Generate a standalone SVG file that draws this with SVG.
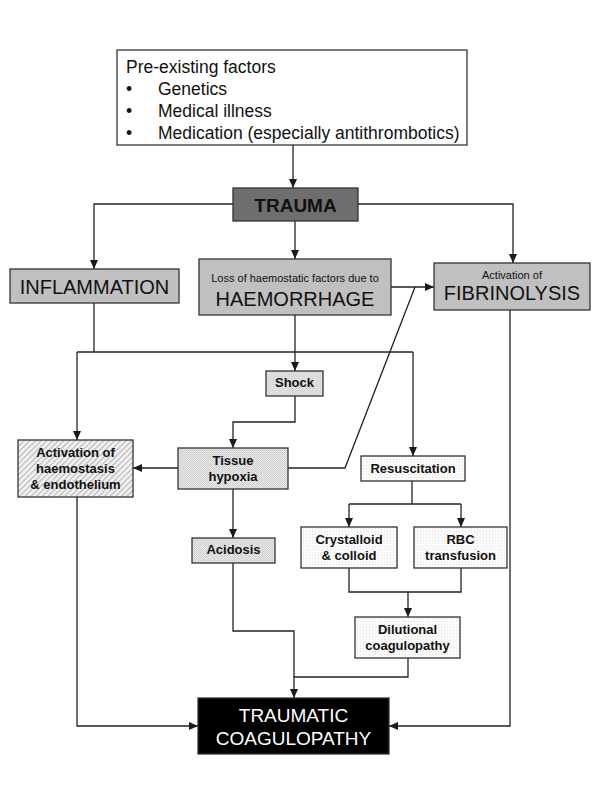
<svg xmlns="http://www.w3.org/2000/svg" width="600" height="800" viewBox="0 0 600 800">
<defs>
<marker id="arr" markerWidth="9" markerHeight="8" refX="9" refY="4" orient="auto" markerUnits="userSpaceOnUse">
<path d="M0,0 L9,4 L0,8 z" fill="#1a1a1a"/>
</marker>
<pattern id="hatch" width="4" height="4" patternUnits="userSpaceOnUse" patternTransform="rotate(45)">
<rect width="4" height="4" fill="#f4f4f4"/>
<rect width="1.4" height="4" fill="#bdbdbd"/>
</pattern>
<pattern id="dotgray" width="2" height="2" patternUnits="userSpaceOnUse">
<rect width="2" height="2" fill="#e6e6e6"/>
<rect width="1" height="1" fill="#cfcfcf"/>
<rect x="1" y="1" width="1" height="1" fill="#d6d6d6"/>
</pattern>
<pattern id="dotlight" width="3" height="3" patternUnits="userSpaceOnUse">
<rect width="3" height="3" fill="#fbfbfb"/>
<rect width="1" height="1" fill="#e2e2e2"/>
</pattern>
</defs>
<style>
.box{stroke:#333;stroke-width:1.3}
.t{font-family:"Liberation Sans",Arial,sans-serif;fill:#111}
.p{font-size:17.5px}
.b{font-weight:bold;font-size:13px;text-anchor:middle}
.c{stroke:#222;stroke-width:1.3;fill:none}
.a{marker-end:url(#arr)}
</style>
<rect width="600" height="800" fill="#fff"/>

<g id="connectors">
<path class="c a" d="M293,145 V188"/>
<path class="c a" d="M233,204 H94 V269"/>
<path class="c a" d="M295,221 V259"/>
<path class="c a" d="M358,204 H513 V263"/>
<path class="c a" d="M391,287 H434"/>
<path class="c" d="M94,303 V352"/>
<path class="c" d="M77,352 H413"/>
<path class="c a" d="M77,352 V440"/>
<path class="c a" d="M413,352 V456"/>
<path class="c a" d="M295,315 V371"/>
<path class="c a" d="M295,396 V422 H233 V448"/>
<path class="c a" d="M178,468 H133"/>
<path class="c" d="M288,468 H345 L415,287"/>
<path class="c a" d="M233,489 V538"/>
<path class="c" d="M412,481 V504"/>
<path class="c" d="M349,504 H461"/>
<path class="c a" d="M349,504 V527"/>
<path class="c a" d="M461,504 V527"/>
<path class="c" d="M349,568 V592 H461 V568"/>
<path class="c a" d="M408,592 V617"/>
<path class="c a" d="M408,658 V677 H294 V698"/>
<path class="c" d="M233,563 V631 H294 V677"/>
<path class="c a" d="M77,497 V726 H198"/>
<path class="c a" d="M510,310 V726 H389"/>
</g>

<g id="preexisting">
<rect class="box" x="117" y="50" width="350" height="95" fill="#fff"/>
<text class="t p" x="126" y="73">Pre-existing factors</text>
<text class="t p" x="126" y="95">•</text>
<text class="t p" x="158" y="95">Genetics</text>
<text class="t p" x="126" y="117">•</text>
<text class="t p" x="158" y="117">Medical illness</text>
<text class="t p" x="126" y="139">•</text>
<text class="t p" x="158" y="139">Medication (especially antithrombotics)</text>
</g>

<g id="trauma">
<rect class="box" x="233" y="188" width="125" height="33" fill="#6e6e6e"/>
<text class="t" font-size="19" font-weight="bold" text-anchor="middle" x="295.5" y="212">TRAUMA</text>
</g>

<g id="inflammation">
<rect class="box" x="10" y="269" width="169" height="34" fill="#c0c0c0"/>
<text class="t" font-size="20" text-anchor="middle" x="94.5" y="294">INFLAMMATION</text>
</g>

<g id="haemorrhage">
<rect class="box" x="199" y="259" width="192" height="56" fill="#c0c0c0"/>
<text class="t" font-size="11" text-anchor="middle" x="295" y="282">Loss of haemostatic factors due to</text>
<text class="t" font-size="20" text-anchor="middle" x="295" y="306">HAEMORRHAGE</text>
</g>

<g id="fibrinolysis">
<rect class="box" x="434" y="263" width="156" height="47" fill="#c0c0c0"/>
<text class="t" font-size="11" text-anchor="middle" x="512" y="279">Activation of</text>
<text class="t" font-size="20" text-anchor="middle" x="512" y="300">FIBRINOLYSIS</text>
</g>

<g id="shock">
<rect class="box" x="266" y="371" width="57" height="25" fill="url(#dotgray)"/>
<text class="t b" x="294.5" y="387">Shock</text>
</g>

<g id="activation">
<rect class="box" x="18" y="440" width="115" height="57" fill="url(#hatch)"/>
<text class="t b" x="75.5" y="457">Activation of</text>
<text class="t b" x="75.5" y="473">haemostasis</text>
<text class="t b" x="75.5" y="489">&amp; endothelium</text>
</g>

<g id="tissuehypoxia">
<rect class="box" x="178" y="448" width="110" height="41" fill="url(#dotgray)"/>
<text class="t b" x="233" y="465">Tissue</text>
<text class="t b" x="233" y="481">hypoxia</text>
</g>

<g id="resuscitation">
<rect class="box" x="361" y="456" width="104" height="25" fill="url(#dotlight)"/>
<text class="t b" x="413" y="473">Resuscitation</text>
</g>

<g id="acidosis">
<rect class="box" x="192" y="538" width="83" height="25" fill="url(#dotgray)"/>
<text class="t b" x="233.5" y="554">Acidosis</text>
</g>

<g id="crystalloid">
<rect class="box" x="301" y="527" width="96" height="41" fill="url(#dotlight)"/>
<text class="t b" x="349" y="544">Crystalloid</text>
<text class="t b" x="349" y="560">&amp; colloid</text>
</g>

<g id="rbc">
<rect class="box" x="414" y="527" width="93" height="41" fill="url(#dotlight)"/>
<text class="t b" x="460.5" y="544">RBC</text>
<text class="t b" x="460.5" y="560">transfusion</text>
</g>

<g id="dilutional">
<rect class="box" x="355" y="617" width="105" height="41" fill="url(#dotlight)"/>
<text class="t b" x="407.5" y="634">Dilutional</text>
<text class="t b" x="407.5" y="650">coagulopathy</text>
</g>

<g id="traumatic">
<rect class="box" x="198" y="698" width="191" height="56" fill="#000"/>
<text class="t" font-size="19" text-anchor="middle" x="293.5" y="722" style="fill:#fff">TRAUMATIC</text>
<text class="t" font-size="19" text-anchor="middle" x="293.5" y="745" style="fill:#fff">COAGULOPATHY</text>
</g>
</svg>
